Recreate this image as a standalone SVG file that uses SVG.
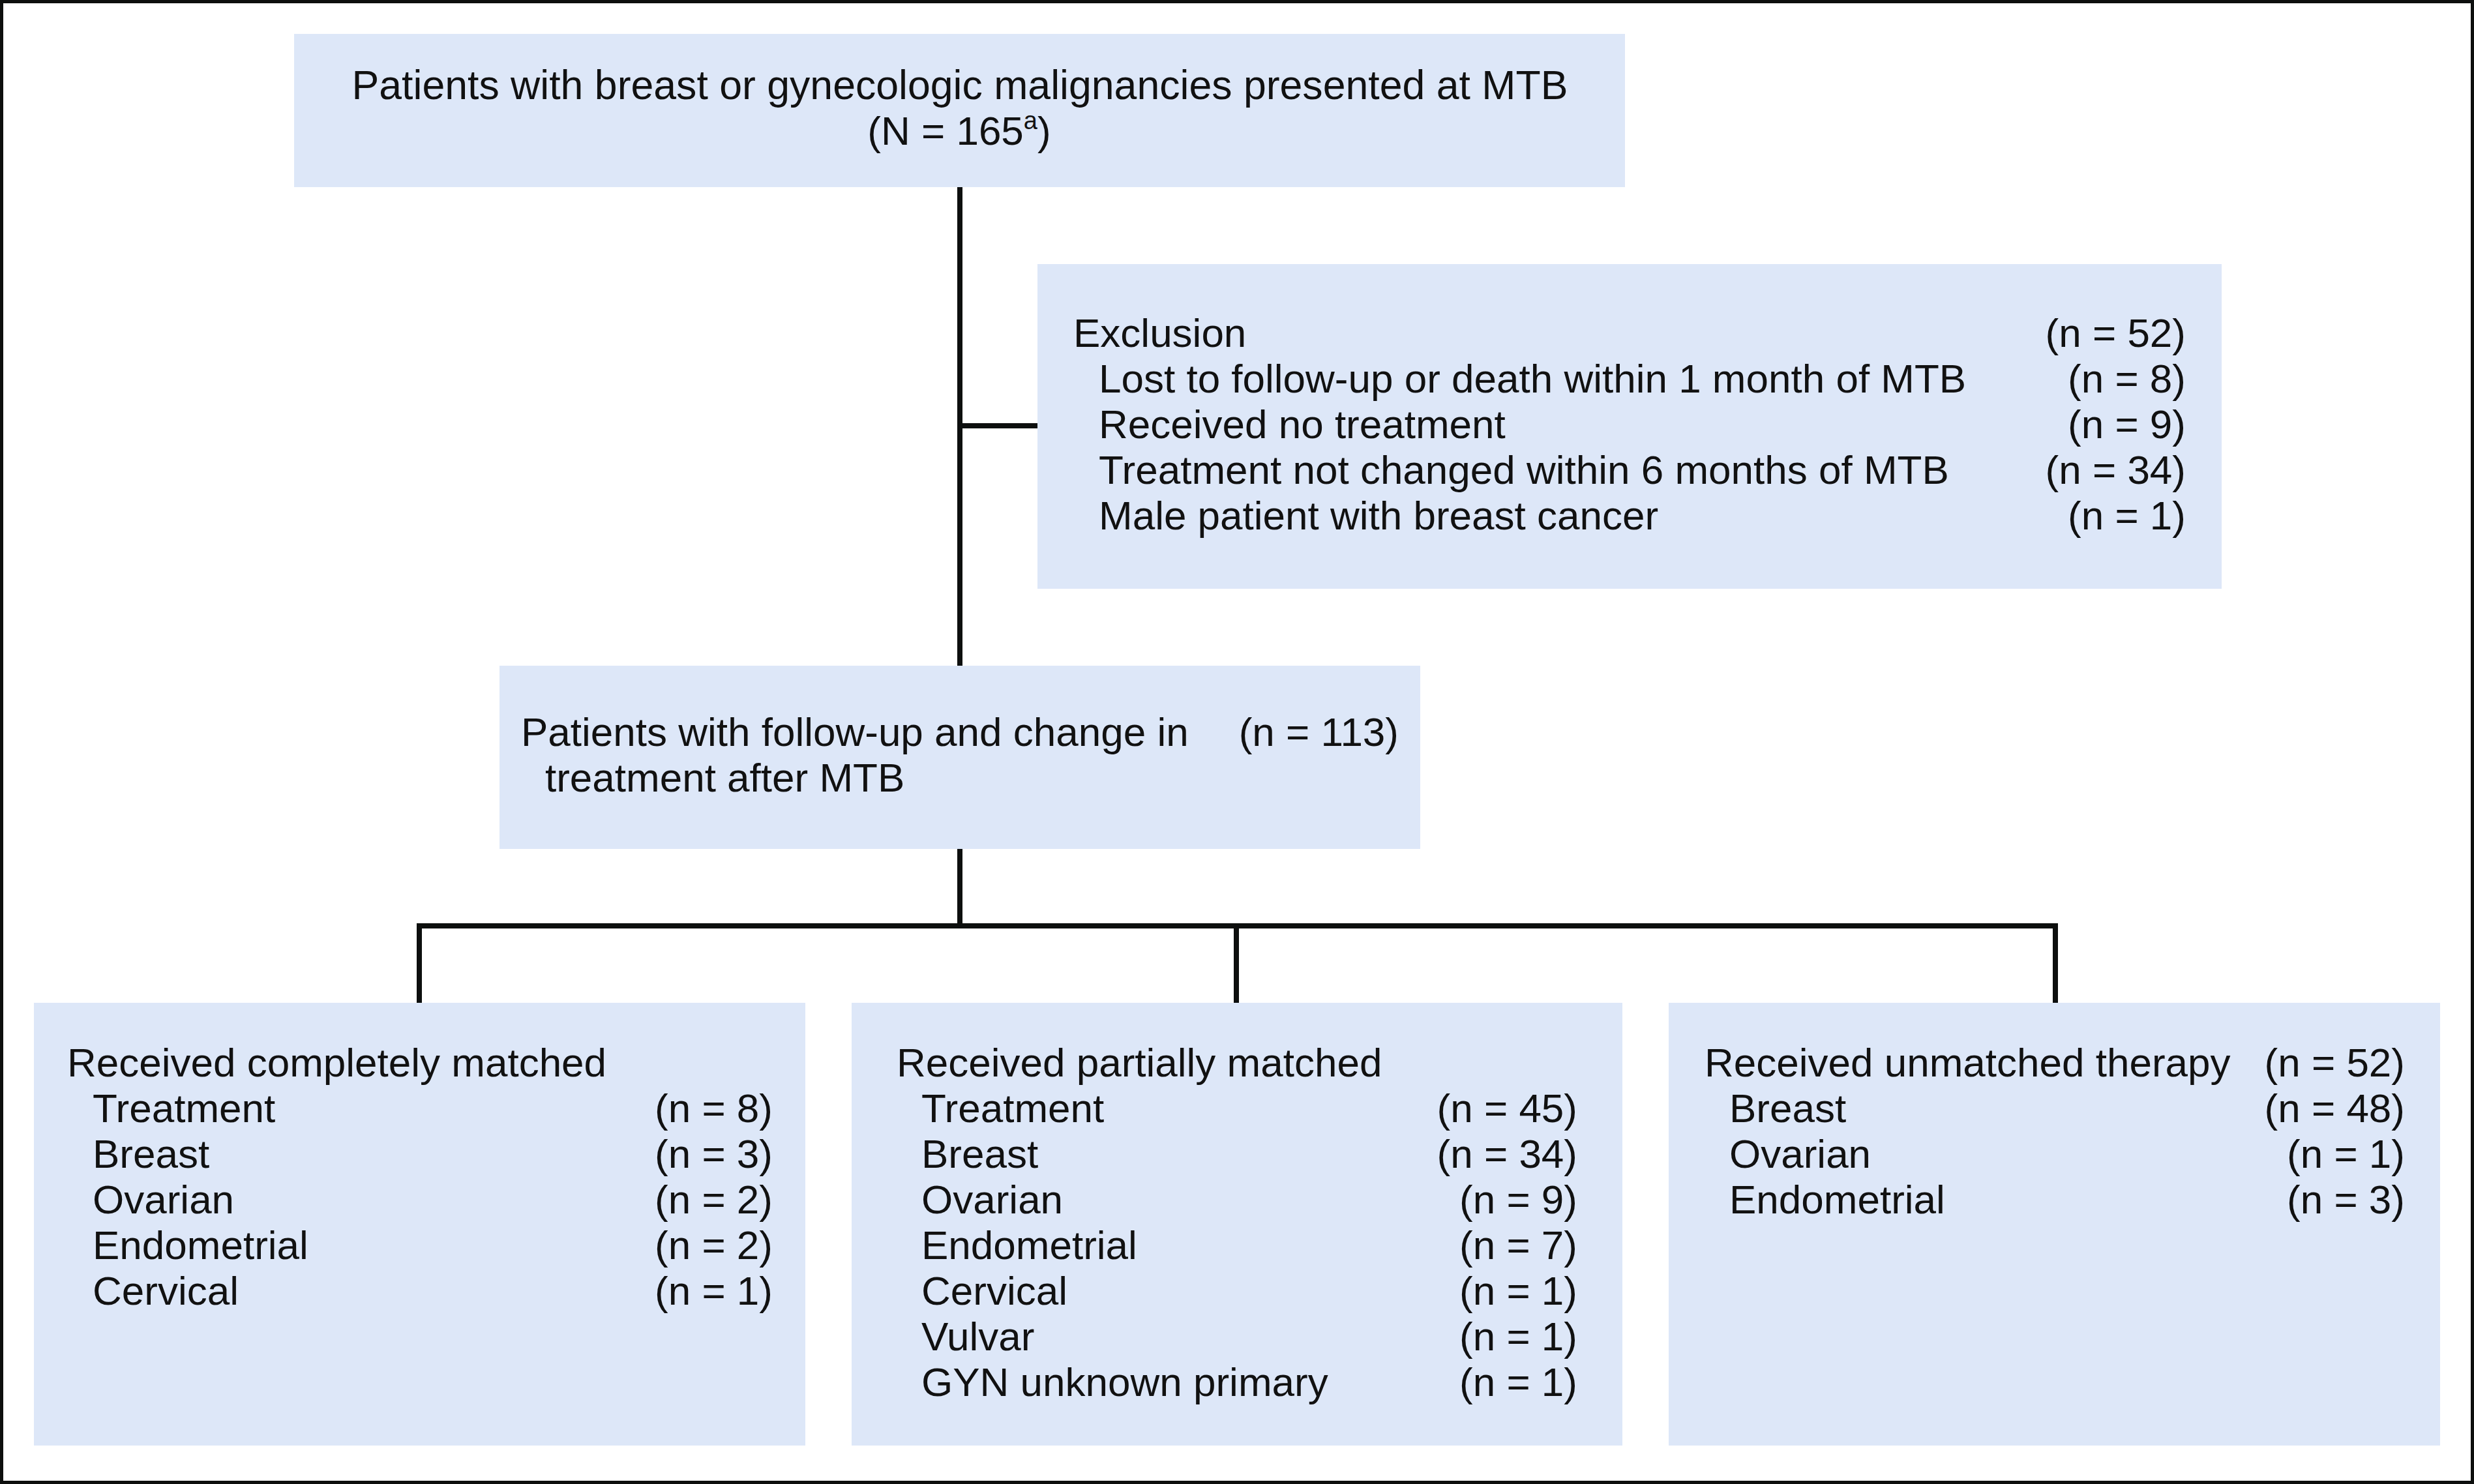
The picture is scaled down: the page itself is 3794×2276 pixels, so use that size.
<svg xmlns="http://www.w3.org/2000/svg" width="3794" height="2276" viewBox="0 0 3794 2276">
<style>
.box{fill:#dde7f8;}
.t{font-family:"Liberation Sans",Arial,sans-serif;font-size:62px;fill:#111;}
.r{text-anchor:end;}
.c{text-anchor:middle;}
.ln{stroke:#0d0f0e;stroke-width:8;fill:none;stroke-linecap:butt;}
</style>
<rect x="0" y="0" width="3794" height="2276" fill="#ffffff"/>
<rect x="2.5" y="2.5" width="3789" height="2271" fill="none" stroke="#0d0f0e" stroke-width="5"/>
<g id="connectors">
<line class="ln" x1="1472" y1="287" x2="1472" y2="1021"/>
<line class="ln" x1="1472" y1="653" x2="1591" y2="653"/>
<line class="ln" x1="1472" y1="1302" x2="1472" y2="1420"/>
<line class="ln" x1="639" y1="1420" x2="3156" y2="1420"/>
<line class="ln" x1="643" y1="1416" x2="643" y2="1538"/>
<line class="ln" x1="1896" y1="1416" x2="1896" y2="1538"/>
<line class="ln" x1="3152" y1="1416" x2="3152" y2="1538"/>
</g>
<g id="n-top">
<rect class="box" x="451" y="52" width="2041" height="235"/>
<text class="t c" x="1472" y="152" style="font-size:62.6px">Patients with breast or gynecologic malignancies presented at MTB</text>
<text class="t c" x="1471" y="222">(N = 165<tspan font-size="38" dy="-24">a</tspan><tspan dy="24">)</tspan></text>
</g>
<g id="n-exclusion">
<rect class="box" x="1591" y="405" width="1816" height="498"/>
<text class="t" x="1646" y="532">Exclusion</text>
<text class="t r" x="3352" y="532">(n = 52)</text>
<text class="t" x="1685" y="602">Lost to follow-up or death within 1 month of MTB</text>
<text class="t r" x="3352" y="602">(n = 8)</text>
<text class="t" x="1685" y="672">Received no treatment</text>
<text class="t r" x="3352" y="672">(n = 9)</text>
<text class="t" x="1685" y="742">Treatment not changed within 6 months of MTB</text>
<text class="t r" x="3352" y="742">(n = 34)</text>
<text class="t" x="1685" y="812">Male patient with breast cancer</text>
<text class="t r" x="3352" y="812">(n = 1)</text>
</g>
<g id="n-followup">
<rect class="box" x="766" y="1021" width="1412" height="281"/>
<text class="t" x="799" y="1144">Patients with follow-up and change in</text>
<text class="t r" x="2145" y="1144">(n = 113)</text>
<text class="t" x="836" y="1214">treatment after MTB</text>
</g>
<g id="n-complete">
<rect class="box" x="52" y="1538" width="1183" height="679"/>
<text class="t" x="103" y="1651">Received completely matched</text>
<text class="t" x="142" y="1721">Treatment</text>
<text class="t r" x="1185" y="1721">(n = 8)</text>
<text class="t" x="142" y="1791">Breast</text>
<text class="t r" x="1185" y="1791">(n = 3)</text>
<text class="t" x="142" y="1861">Ovarian</text>
<text class="t r" x="1185" y="1861">(n = 2)</text>
<text class="t" x="142" y="1931">Endometrial</text>
<text class="t r" x="1185" y="1931">(n = 2)</text>
<text class="t" x="142" y="2001">Cervical</text>
<text class="t r" x="1185" y="2001">(n = 1)</text>
</g>
<g id="n-partial">
<rect class="box" x="1306" y="1538" width="1182" height="679"/>
<text class="t" x="1375" y="1651">Received partially matched</text>
<text class="t" x="1413" y="1721">Treatment</text>
<text class="t r" x="2419" y="1721">(n = 45)</text>
<text class="t" x="1413" y="1791">Breast</text>
<text class="t r" x="2419" y="1791">(n = 34)</text>
<text class="t" x="1413" y="1861">Ovarian</text>
<text class="t r" x="2419" y="1861">(n = 9)</text>
<text class="t" x="1413" y="1931">Endometrial</text>
<text class="t r" x="2419" y="1931">(n = 7)</text>
<text class="t" x="1413" y="2001">Cervical</text>
<text class="t r" x="2419" y="2001">(n = 1)</text>
<text class="t" x="1413" y="2071">Vulvar</text>
<text class="t r" x="2419" y="2071">(n = 1)</text>
<text class="t" x="1413" y="2141">GYN unknown primary</text>
<text class="t r" x="2419" y="2141">(n = 1)</text>
</g>
<g id="n-unmatched">
<rect class="box" x="2559" y="1538" width="1183" height="679"/>
<text class="t" x="2614" y="1651">Received unmatched therapy</text>
<text class="t r" x="3688" y="1651">(n = 52)</text>
<text class="t" x="2652" y="1721">Breast</text>
<text class="t r" x="3688" y="1721">(n = 48)</text>
<text class="t" x="2652" y="1791">Ovarian</text>
<text class="t r" x="3688" y="1791">(n = 1)</text>
<text class="t" x="2652" y="1861">Endometrial</text>
<text class="t r" x="3688" y="1861">(n = 3)</text>
</g>
</svg>
